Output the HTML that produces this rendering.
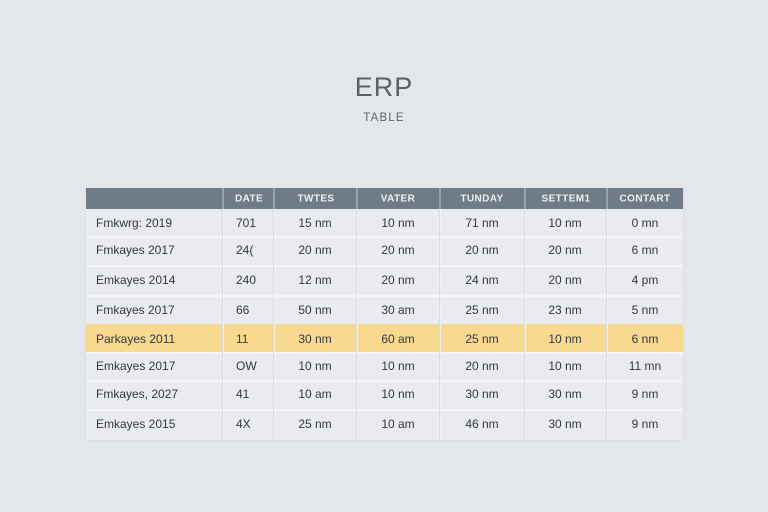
<!DOCTYPE html>
<html><head><meta charset="utf-8">
<style>
html,body{margin:0;padding:0;}
body{width:768px;height:512px;background:#e3e6eb;position:relative;overflow:hidden;font-family:"Liberation Sans",sans-serif;}
.t1{position:absolute;left:0;width:768px;top:72px;text-align:center;font-size:27px;color:#5a6068;letter-spacing:1px;}
.t2{position:absolute;left:0;width:768px;top:112px;text-align:center;font-size:11.5px;color:#5f656c;letter-spacing:1.2px;}
.tbl{position:absolute;left:86px;top:188px;width:597px;height:252px;background:#e9ebf0;box-shadow:0 1px 3px rgba(0,0,0,0.06);}
.hdr{position:absolute;left:86px;top:188px;width:597px;height:21px;background:#6f7b86;}
.row{position:absolute;left:86px;width:597px;border-top:2px solid #f4f5f8;box-sizing:border-box;}
.hl{background:#f9d890;}
.vl{position:absolute;top:188px;width:2px;height:252px;background:#eef0f3;border-left:1px solid #d9dde2;box-sizing:border-box;}
.vh{position:absolute;top:188px;width:2px;height:21px;background:#9aa3ab;}
.c{position:absolute;font-size:12px;color:#33383f;white-space:nowrap;transform:translateY(-50%);}
.h{position:absolute;font-size:10px;font-weight:bold;color:#eef0f3;white-space:nowrap;transform:translateY(-50%);letter-spacing:0.4px;}
.ctr{transform:translate(-50%,-50%);}
</style></head><body>
<div class="t1">ERP</div>
<div class="t2">TABLE</div>
<div class="tbl"></div>
<div class="row" style="top:236px;height:29px;"></div>
<div class="row" style="top:265px;height:30px;"></div>
<div class="row" style="top:295px;height:30px;"></div>
<div class="row hl" style="top:324px;height:29px;border-top:none;"></div>
<div class="row" style="top:352px;height:28px;"></div>
<div class="row" style="top:380px;height:29px;"></div>
<div class="row" style="top:409px;height:29px;"></div>
<div class="hdr"></div>
<div class="vl" style="left:222px"></div>
<div class="vl" style="left:273px"></div>
<div class="vl" style="left:356px"></div>
<div class="vl" style="left:439px"></div>
<div class="vl" style="left:524px"></div>
<div class="vl" style="left:606px"></div>
<div class="vh" style="left:222px"></div>
<div class="vh" style="left:273px"></div>
<div class="vh" style="left:356px"></div>
<div class="vh" style="left:439px"></div>
<div class="vh" style="left:524px"></div>
<div class="vh" style="left:606px"></div>

<div class="h" style="left:235px;top:199px">DATE</div>
<div class="h ctr" style="left:316px;top:199px">TWTES</div>
<div class="h ctr" style="left:398px;top:199px">VATER</div>
<div class="h ctr" style="left:482px;top:199px">TUNDAY</div>
<div class="h ctr" style="left:566px;top:199px">SETTEM1</div>
<div class="h ctr" style="left:645px;top:199px">CONTART</div>

<!-- row 1 -->
<div class="c" style="left:96px;top:223px">Fmkwrg: 2019</div>
<div class="c" style="left:236px;top:223px">701</div>
<div class="c ctr" style="left:315px;top:223px">15 nm</div>
<div class="c ctr" style="left:398px;top:223px">10 nm</div>
<div class="c ctr" style="left:482px;top:223px">71 nm</div>
<div class="c ctr" style="left:565px;top:223px">10 nm</div>
<div class="c ctr" style="left:645px;top:223px">0 mn</div>
<!-- row 2 -->
<div class="c" style="left:96px;top:250px">Fmkayes 2017</div>
<div class="c" style="left:236px;top:250px">24(</div>
<div class="c ctr" style="left:315px;top:250px">20 nm</div>
<div class="c ctr" style="left:398px;top:250px">20 nm</div>
<div class="c ctr" style="left:482px;top:250px">20 nm</div>
<div class="c ctr" style="left:565px;top:250px">20 nm</div>
<div class="c ctr" style="left:645px;top:250px">6 mn</div>
<!-- row 3 -->
<div class="c" style="left:96px;top:280px">Emkayes 2014</div>
<div class="c" style="left:236px;top:280px">240</div>
<div class="c ctr" style="left:315px;top:280px">12 nm</div>
<div class="c ctr" style="left:398px;top:280px">20 nm</div>
<div class="c ctr" style="left:482px;top:280px">24 nm</div>
<div class="c ctr" style="left:565px;top:280px">20 nm</div>
<div class="c ctr" style="left:645px;top:280px">4 pm</div>
<!-- row 4 -->
<div class="c" style="left:96px;top:310px">Fmkayes 2017</div>
<div class="c" style="left:236px;top:310px">66</div>
<div class="c ctr" style="left:315px;top:310px">50 nm</div>
<div class="c ctr" style="left:398px;top:310px">30 am</div>
<div class="c ctr" style="left:482px;top:310px">25 nm</div>
<div class="c ctr" style="left:565px;top:310px">23 nm</div>
<div class="c ctr" style="left:645px;top:310px">5 nm</div>
<!-- row 5 highlighted -->
<div class="c" style="left:96px;top:339px">Parkayes 2011</div>
<div class="c" style="left:236px;top:339px">11</div>
<div class="c ctr" style="left:315px;top:339px">30 nm</div>
<div class="c ctr" style="left:398px;top:339px">60 am</div>
<div class="c ctr" style="left:482px;top:339px">25 nm</div>
<div class="c ctr" style="left:565px;top:339px">10 nm</div>
<div class="c ctr" style="left:645px;top:339px">6 nm</div>
<!-- row 6 -->
<div class="c" style="left:96px;top:366px">Emkayes 2017</div>
<div class="c" style="left:236px;top:366px">OW</div>
<div class="c ctr" style="left:315px;top:366px">10 nm</div>
<div class="c ctr" style="left:398px;top:366px">10 nm</div>
<div class="c ctr" style="left:482px;top:366px">20 nm</div>
<div class="c ctr" style="left:565px;top:366px">10 nm</div>
<div class="c ctr" style="left:645px;top:366px">11 mn</div>
<!-- row 7 -->
<div class="c" style="left:96px;top:394px">Fmkayes, 2027</div>
<div class="c" style="left:236px;top:394px">41</div>
<div class="c ctr" style="left:315px;top:394px">10 am</div>
<div class="c ctr" style="left:398px;top:394px">10 nm</div>
<div class="c ctr" style="left:482px;top:394px">30 nm</div>
<div class="c ctr" style="left:565px;top:394px">30 nm</div>
<div class="c ctr" style="left:645px;top:394px">9 nm</div>
<!-- row 8 -->
<div class="c" style="left:96px;top:424px">Emkayes 2015</div>
<div class="c" style="left:236px;top:424px">4X</div>
<div class="c ctr" style="left:315px;top:424px">25 nm</div>
<div class="c ctr" style="left:398px;top:424px">10 am</div>
<div class="c ctr" style="left:482px;top:424px">46 nm</div>
<div class="c ctr" style="left:565px;top:424px">30 nm</div>
<div class="c ctr" style="left:645px;top:424px">9 nm</div>
</body></html>
